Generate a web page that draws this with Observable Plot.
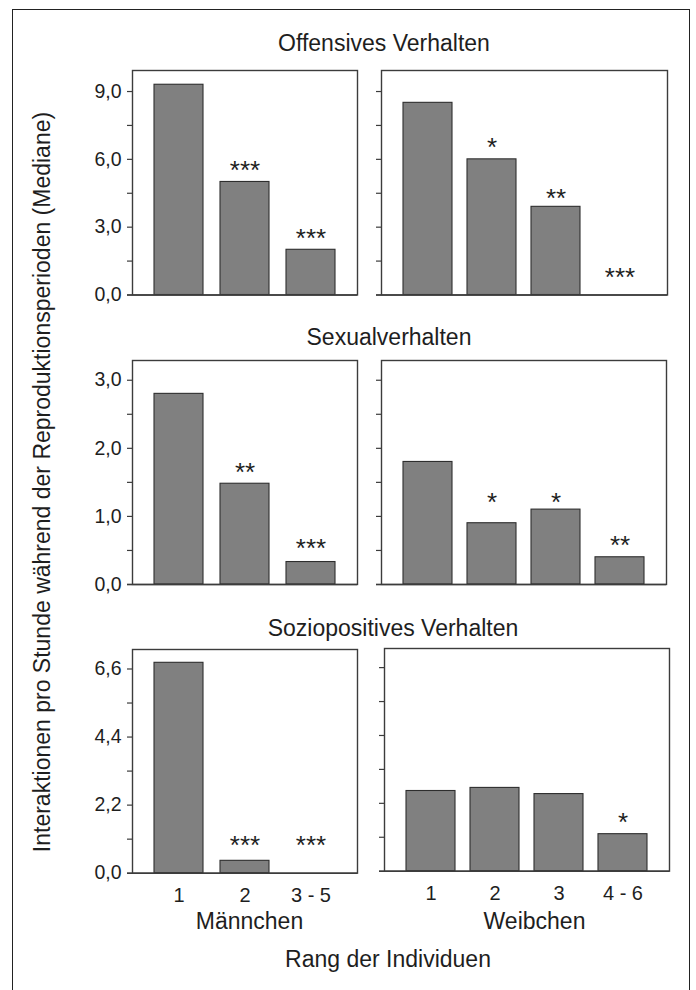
<!DOCTYPE html>
<html>
<head>
<meta charset="utf-8">
<script src="https://cdn.jsdelivr.net/npm/d3@7"></script>
<script src="https://cdn.jsdelivr.net/npm/@observablehq/plot@0.6"></script>
<style>
  html, body { margin: 0; padding: 0; background: #fff; overflow: hidden; }
  #root { position: relative; width: 696px; height: 990px; font-family: "Liberation Sans", Arial, sans-serif; color: #1e1e1e; }
  .lbl { position: absolute; white-space: nowrap; font-size: 23px; line-height: 26px; text-align: center; width: 500px; }
  .panel { position: absolute; }
  #border { position: absolute; left: 12px; top: 9px; width: 678px; height: 1010px; border: 1.4px solid #222; box-sizing: border-box; }
</style>
</head>
<body>
<div id="root"><div id="border"></div></div>
<script>
// ---- Data ----
const maleRanks = ["1", "2", "3 - 5"];
const femaleRanks = ["1", "2", "3", "4 - 6"];

const offensiveMale = [9.3, 5.0, 2.0];
const offensiveFemale = [8.5, 6.0, 3.9, 0];
const sexualMale = [2.8, 1.48, 0.33];
const sexualFemale = [1.8, 0.9, 1.1, 0.4];
const socioMale = [6.8, 0.4, 0];
const socioFemale = [2.6, 2.7, 2.5, 1.2];

const offensiveMaleSig = ["", "***", "***"];
const offensiveFemaleSig = ["", "*", "**", "***"];
const sexualMaleSig = ["", "**", "***"];
const sexualFemaleSig = ["", "*", "*", "**"];
const socioMaleSig = ["", "***", "***"];
const socioFemaleSig = ["", "", "", "*"];

// height (data units) at which each significance mark sits
const offensiveMaleSigY = [null, 5.83, 2.82];
const offensiveFemaleSigY = [null, 6.83, 4.58, 1.08];
const sexualMaleSigY = [null, 1.74, 0.63];
const sexualFemaleSigY = [null, 1.31, 1.31, 0.67];
const socioMaleSigY = [null, 1.10, 1.10];
const socioFemaleSigY = [null, null, null, 1.80];

const offensiveTicks = [0, 3, 6, 9], offensiveMinor = [1.5, 4.5, 7.5];
const sexualTicks = [0, 1, 2, 3], sexualMinor = [0.5, 1.5, 2.5];
const socioTicks = [0, 2.2, 4.4, 6.6], socioMinor = [1.1, 3.3, 5.5];

const rowTitles = ["Offensives Verhalten", "Sexualverhalten", "Soziopositives Verhalten"];
const sexLabels = ["Männchen", "Weibchen"];
const xTitle = "Rang der Individuen";
const yTitle = "Interaktionen pro Stunde während der Reproduktionsperioden (Mediane)";

// ---- Drawing ----
const root = document.getElementById("root");
const FONT = '"Liberation Sans", Arial, sans-serif';
const AX = "#3c3c3c";
const fmt = d => d.toFixed(1).replace(".", ",");

function panel(o) {
  const ML = 70, MR = 6, MT = 6, MB = o.xLabels ? 40 : 8;
  const rows = o.cats.map((c, i) => ({cat: c, value: o.values[i], sig: o.sig[i], sigY: o.sigY[i]}));
  const marks = [
    Plot.barY(rows, {x: "cat", y: "value", fill: "#808080", stroke: "#2e2e2e", strokeWidth: 1.1}),
    Plot.frame({stroke: AX, strokeWidth: 1.4}),
    Plot.ruleY([0], {insetLeft: -5, stroke: AX, strokeWidth: 1.4}),
    Plot.axisY({ticks: o.majors, tickSize: 5, tickPadding: 6, stroke: AX, strokeWidth: 1.2,
      tickFormat: o.yLabels ? fmt : () => "", fontSize: 19.5, label: null, fill: "#1e1e1e"}),
    Plot.axisY({ticks: o.minors, tickSize: 5, stroke: AX, strokeWidth: 1.2, tickFormat: () => "", label: null}),
    Plot.text(rows.filter(d => d.sig), {x: "cat", y: "sigY", text: "sig", fontSize: 26, dy: 7, fill: "#1e1e1e"})
  ];
  if (o.xLabels) marks.push(Plot.axisX({tickSize: 0, tickPadding: 15, fontSize: 20, label: null, fill: "#1e1e1e"}));
  const chart = Plot.plot({
    width: o.w + ML + MR, height: o.h + MT + MB,
    marginLeft: ML, marginRight: MR, marginTop: MT, marginBottom: MB,
    style: {fontFamily: FONT, fontSize: "19.5px", background: "transparent", overflow: "visible", color: "#1e1e1e"},
    x: {type: "band", domain: o.cats, paddingInner: o.pi, paddingOuter: o.po, axis: null},
    y: {domain: [0, o.ymax]},
    marks
  });
  chart.classList.add("panel");
  chart.style.left = (o.left - ML) + "px";
  chart.style.top = (o.top - MT) + "px";
  root.appendChild(chart);
}

const L = {cats: maleRanks, pi: 0.254, po: 0.313};
const R = {cats: femaleRanks, pi: 0.231, po: 0.318};

panel({...L, values: offensiveMale, sig: offensiveMaleSig, sigY: offensiveMaleSigY, ymax: 9.93,
  majors: offensiveTicks, minors: offensiveMinor, yLabels: true, left: 132, top: 70, w: 225, h: 224.5});
panel({...R, values: offensiveFemale, sig: offensiveFemaleSig, sigY: offensiveFemaleSigY, ymax: 9.93,
  majors: offensiveTicks, minors: offensiveMinor, yLabels: false, left: 381, top: 70, w: 286, h: 224.5});

panel({...L, values: sexualMale, sig: sexualMaleSig, sigY: sexualMaleSigY, ymax: 3.29,
  majors: sexualTicks, minors: sexualMinor, yLabels: true, left: 132, top: 360, w: 225, h: 224});
panel({...R, values: sexualFemale, sig: sexualFemaleSig, sigY: sexualFemaleSigY, ymax: 3.29,
  majors: sexualTicks, minors: sexualMinor, yLabels: false, left: 381, top: 360, w: 285, h: 224});

panel({...L, values: socioMale, sig: socioMaleSig, sigY: socioMaleSigY, ymax: 7.23,
  majors: socioTicks, minors: socioMinor, yLabels: true, xLabels: true, left: 132, top: 649, w: 225, h: 223.7});
panel({...R, values: socioFemale, sig: socioFemaleSig, sigY: socioFemaleSigY, ymax: 7.22,
  majors: socioTicks, minors: socioMinor, yLabels: false, xLabels: true, left: 384, top: 648, w: 285, h: 222.7});

function label(text, cx, cy) {
  const d = document.createElement("div");
  d.className = "lbl";
  d.textContent = text;
  d.style.left = (cx - 250) + "px";
  d.style.top = (cy - 12.9) + "px";
  root.appendChild(d);
}
label(rowTitles[0], 384, 42.8);
label(rowTitles[1], 389, 336.8);
label(rowTitles[2], 393, 627.8);
label(sexLabels[0], 249.5, 920.7);
label(sexLabels[1], 534.5, 920.7);
label(xTitle, 388, 959);

const yt = document.createElement("div");
yt.textContent = yTitle;
Object.assign(yt.style, {position: "absolute", left: "42px", top: "482px", whiteSpace: "nowrap",
  fontSize: "23px", lineHeight: "26px", transform: "translate(-50%, -50%) rotate(-90deg)"});
root.appendChild(yt);
</script>
</body>
</html>
